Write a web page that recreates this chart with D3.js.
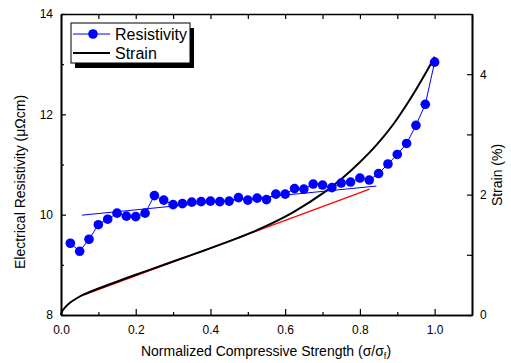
<!DOCTYPE html>
<html lang="en">
<head>
  <meta charset="UTF-8">
  <script type="text/javascript" src="https://cdn.jsdelivr.net/npm/d3@7/dist/d3.min.js"></script>
  <style>
    body { margin: 0; background: #fff; }
    text { font-family: Arial, "Liberation Sans", sans-serif; fill: #000; }
  </style>
</head>
<body>
<svg></svg>
<script type="text/javascript">
  // resistivity measurements
  var resX = [0.025, 0.05, 0.075, 0.1, 0.125, 0.15, 0.175, 0.2, 0.225, 0.25,
              0.275, 0.3, 0.325, 0.35, 0.375, 0.4, 0.425, 0.45, 0.475, 0.5,
              0.525, 0.55, 0.575, 0.6, 0.625, 0.65, 0.675, 0.7, 0.725, 0.75,
              0.775, 0.8, 0.825, 0.85, 0.875, 0.9, 0.925, 0.95, 0.975, 1.0];
  var resY = [9.43, 9.27, 9.51, 9.80, 9.91, 10.03, 9.97, 9.96, 10.03, 10.38,
              10.29, 10.20, 10.22, 10.25, 10.26, 10.27, 10.26, 10.27, 10.34, 10.29,
              10.33, 10.30, 10.41, 10.41, 10.52, 10.51, 10.61, 10.59, 10.54, 10.63,
              10.65, 10.73, 10.69, 10.82, 11.01, 11.20, 11.42, 11.78, 12.20, 13.04];

  // strain curve
  var strainX = [0, 0.003, 0.011, 0.024, 0.04, 0.064, 0.1, 0.198, 0.296, 0.385,
                 0.474, 0.532, 0.621, 0.71, 0.755, 0.799, 0.844, 0.888, 0.933, 0.978, 1.0];
  var strainY = [0, 0.06, 0.128, 0.204, 0.27, 0.35, 0.44, 0.664, 0.88, 1.075,
                 1.28, 1.43, 1.706, 2.062, 2.283, 2.534, 2.822, 3.156, 3.57, 4.04, 4.29];

  // linear fits (end points)
  var resFitX = [0.056, 0.844];
  var resFitY = [9.99, 10.57];
  var strainFitX = [0.06, 0.826];
  var strainFitY = [0.33, 2.09];

  var xTicks = [0.0, 0.2, 0.4, 0.6, 0.8, 1.0];
  var yTicks = [8, 10, 12, 14];
  var y2Ticks = [0, 2, 4];

  function draw(){
    var margin = {top: 14, right: 39, bottom: 48, left: 61},
        width = 511 - margin.left - margin.right,
        height = 363 - margin.top - margin.bottom;

    var svg = d3.select("svg")
      .attr("width", 511)
      .attr("height", 363);

    var inner = svg.append("g")
      .attr("transform", "translate(" + margin.left + "," + margin.top + ")");

    var xScale = d3.scaleLinear().domain([0, 1.1]).range([0, width]);
    var yScale = d3.scaleLinear().domain([8, 14]).range([height, 0]);
    var y2Scale = d3.scaleLinear().domain([0, 5]).range([height, 0]);

    var res = resX.map(function(d, i){ return {x: d, y: resY[i]}; });
    var strain = strainX.map(function(d, i){ return {x: d, y: strainY[i]}; });

    // red fit on strain, under the curve
    inner.append("line")
      .attr("x1", xScale(strainFitX[0])).attr("y1", y2Scale(strainFitY[0]))
      .attr("x2", xScale(strainFitX[1])).attr("y2", y2Scale(strainFitY[1]))
      .attr("stroke", "#ff0000").attr("stroke-width", 1.2);

    // strain curve
    inner.append("path")
      .datum(strain)
      .attr("fill", "none")
      .attr("stroke", "#000")
      .attr("stroke-width", 2)
      .attr("d", d3.line()
        .x(function(d){ return xScale(d.x); })
        .y(function(d){ return y2Scale(d.y); })
        .curve(d3.curveCatmullRom.alpha(0.5)));

    // blue fit on resistivity
    inner.append("line")
      .attr("x1", xScale(resFitX[0])).attr("y1", yScale(resFitY[0]))
      .attr("x2", xScale(resFitX[1])).attr("y2", yScale(resFitY[1]))
      .attr("stroke", "#0000ff").attr("stroke-width", 1);

    // resistivity line + markers
    inner.append("path")
      .datum(res)
      .attr("fill", "none")
      .attr("stroke", "#0000ff")
      .attr("stroke-width", 1)
      .attr("d", d3.line()
        .x(function(d){ return xScale(d.x); })
        .y(function(d){ return yScale(d.y); }));

    inner.selectAll("circle.res")
      .data(res)
      .enter().append("circle")
      .attr("class", "res")
      .attr("cx", function(d){ return xScale(d.x); })
      .attr("cy", function(d){ return yScale(d.y); })
      .attr("r", 4.8)
      .attr("fill", "#0000ff");

    // axes, ticks pointing inward
    var xAxis = d3.axisBottom(xScale).tickValues(xTicks).tickSizeInner(-6).tickSizeOuter(0)
      .tickPadding(10).tickFormat(d3.format(".1f"));
    var xMinor = d3.axisBottom(xScale).tickValues([0.1, 0.3, 0.5, 0.7, 0.9]).tickSizeInner(-3)
      .tickSizeOuter(0).tickFormat("");
    var xTop = d3.axisTop(xScale).ticks(11).tickSizeInner(-5).tickSizeOuter(0).tickFormat("");
    var yAxis = d3.axisLeft(yScale).tickValues(yTicks).tickSizeInner(-5).tickSizeOuter(0)
      .tickPadding(8).tickFormat(d3.format("d"));
    var yMinor = d3.axisLeft(yScale).tickValues([9, 11, 13]).tickSizeInner(-3).tickSizeOuter(0).tickFormat("");
    var y2Axis = d3.axisRight(y2Scale).tickValues(y2Ticks).tickSizeInner(-5).tickSizeOuter(0)
      .tickPadding(8).tickFormat(d3.format("d"));
    var y2Minor = d3.axisRight(y2Scale).tickValues([1, 3]).tickSizeInner(-5).tickSizeOuter(0).tickFormat("");

    inner.append("g").attr("transform", "translate(0," + height + ")").call(xAxis);
    inner.append("g").attr("transform", "translate(0," + height + ")").call(xMinor);
    inner.append("g").call(xTop);
    inner.append("g").call(yAxis);
    inner.append("g").call(yMinor);
    inner.append("g").attr("transform", "translate(" + width + ",0)").call(y2Axis);
    inner.append("g").attr("transform", "translate(" + width + ",0)").call(y2Minor);

    inner.selectAll(".domain").attr("stroke-width", 1.6);
    inner.selectAll(".tick line").attr("stroke-width", 1.2);
    inner.selectAll(".tick text").attr("font-size", 12).attr("font-family", "Arial, 'Liberation Sans', sans-serif");

    // legend
    var lg = inner.append("g").attr("transform", "translate(10,9)");
    lg.append("rect").attr("x", 4).attr("y", 5).attr("width", 119).attr("height", 40).attr("fill", "#000");
    lg.append("rect").attr("x", 0).attr("y", 0).attr("width", 119).attr("height", 40)
      .attr("fill", "#fff").attr("stroke", "#000").attr("stroke-width", 1);
    lg.append("line").attr("x1", 2).attr("x2", 39).attr("y1", 11).attr("y2", 11)
      .attr("stroke", "#0000ff").attr("stroke-width", 1);
    lg.append("circle").attr("cx", 22).attr("cy", 11).attr("r", 4.8).attr("fill", "#0000ff");
    lg.append("text").attr("x", 44).attr("y", 17).attr("font-size", 16).text("Resistivity");
    lg.append("line").attr("x1", 2).attr("x2", 39).attr("y1", 30).attr("y2", 30)
      .attr("stroke", "#000").attr("stroke-width", 2);
    lg.append("text").attr("x", 44).attr("y", 36).attr("font-size", 16).text("Strain");

    // axis titles
    var xt = svg.append("text")
      .attr("x", margin.left + xScale(0.55) - 0.5)
      .attr("y", 356)
      .attr("font-size", 14)
      .style("text-anchor", "middle");
    xt.append("tspan").text("Normalized Compressive Strength (\u03c3/\u03c3");
    xt.append("tspan").attr("font-size", 9).attr("dy", 3).text("f");
    xt.append("tspan").attr("dy", -3).text(")");

    svg.append("text")
      .attr("transform", "translate(25," + 182 + ") rotate(-90)")
      .attr("font-size", 14)
      .style("text-anchor", "middle")
      .text("Electrical Resistivity (\u03bc\u03a9cm)");

    svg.append("text")
      .attr("transform", "translate(502," + 175 + ") rotate(-90)")
      .attr("font-size", 14)
      .style("text-anchor", "middle")
      .text("Strain (%)");
  }

  draw();
</script>
</body>
</html>
